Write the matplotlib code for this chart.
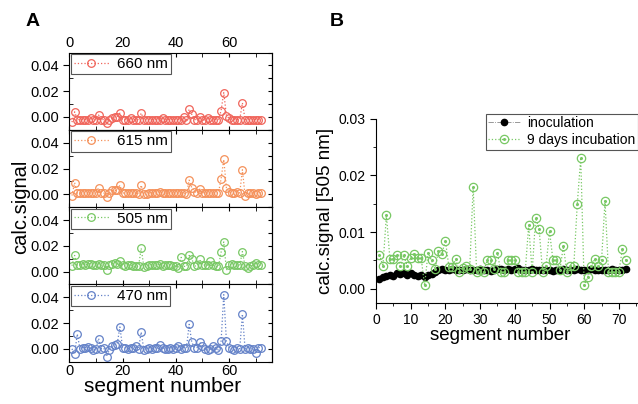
import numpy as np
import matplotlib
matplotlib.use('Agg')
import matplotlib.pyplot as plt
from matplotlib.ticker import MultipleLocator

plt.rcParams['font.family'] = ['Liberation Sans', 'DejaVu Sans']

# panel A: calculated signal per segment, one series per wavelength
seg_a = np.arange(1, 73)
sig_660 = [-0.004, 0.004, -0.002, -0.002, -0.002, -0.002, -0.002, -0.001, -0.002, -0.002,
           0.0015, -0.002, -0.002, -0.005, -0.002, -0.001, 0.000, 0.000, 0.003, -0.002,
           -0.002, -0.002, -0.001, -0.002, -0.002, -0.002, 0.003, -0.002, -0.002, -0.002,
           -0.002, -0.002, -0.002, -0.002, -0.001, -0.002, -0.002, -0.002, -0.002, -0.002,
           -0.002, -0.002, 0.000, -0.002, 0.006, 0.002, -0.002, -0.002, 0.000, -0.002,
           -0.002, -0.001, -0.002, -0.002, -0.002, -0.002, 0.005, 0.019, 0.001, -0.001,
           -0.002, -0.002, -0.002, -0.002, 0.011, -0.002, -0.002, -0.002, -0.002, -0.002,
           -0.002, -0.002]
sig_615 = [-0.001, 0.009, 0.001, 0.001, 0.001, 0.001, 0.001, 0.001, 0.001, 0.001,
           0.005, 0.001, 0.001, -0.002, 0.001, 0.003, 0.003, 0.003, 0.007, 0.001,
           0.001, 0.001, 0.001, 0.001, 0.001, 0.000, 0.007, 0.000, 0.000, 0.001,
           0.001, 0.001, 0.001, 0.002, 0.001, 0.001, 0.001, 0.001, 0.001, 0.001,
           0.001, 0.001, 0.001, 0.000, 0.011, 0.005, 0.002, 0.001, 0.004, 0.001,
           0.001, 0.001, 0.001, 0.001, 0.001, 0.001, 0.012, 0.027, 0.005, 0.002,
           0.001, 0.001, 0.002, 0.001, 0.019, -0.001, 0.001, 0.001, 0.001, 0.000,
           0.001, 0.001]
sig_505 = [0.0045, 0.0125, 0.005, 0.005, 0.006, 0.005, 0.006, 0.006, 0.005, 0.005,
           0.006, 0.005, 0.005, 0.001, 0.005, 0.006, 0.007, 0.006, 0.008, 0.005,
           0.0045, 0.005, 0.005, 0.004, 0.004, 0.004, 0.018, 0.0035, 0.004, 0.005,
           0.005, 0.005, 0.005, 0.006, 0.004, 0.005, 0.005, 0.005, 0.004, 0.004,
           0.003, 0.011, 0.004, 0.004, 0.0125, 0.010, 0.004, 0.005, 0.0095, 0.005,
           0.005, 0.005, 0.008, 0.005, 0.004, 0.004, 0.015, 0.023, 0.001, 0.005,
           0.006, 0.005, 0.005, 0.005, 0.0155, 0.004, 0.003, 0.004, 0.005, 0.007,
           0.005, 0.005]
sig_470 = [0.000, -0.004, 0.0115, 0.000, 0.001, 0.001, 0.0015, 0.001, -0.001, 0.000,
           0.008, 0.000, 0.0005, -0.006, -0.001, 0.002, 0.003, 0.004, 0.017, 0.001,
           0.001, 0.000, 0.001, 0.001, 0.002, 0.000, 0.013, -0.001, 0.000, 0.001,
           0.000, 0.001, 0.001, 0.003, 0.001, 0.000, 0.000, 0.001, 0.000, 0.001,
           0.002, 0.000, 0.001, 0.001, 0.019, 0.005, 0.001, 0.001, 0.005, 0.002,
           0.000, -0.001, 0.000, 0.002, 0.001, -0.001, 0.006, 0.042, 0.006, 0.001,
           0.000, -0.001, 0.001, 0.000, 0.027, 0.000, 0.001, 0.000, 0.000, -0.003,
           0.001, 0.001]
labels_a = ['660 nm', '615 nm', '505 nm', '470 nm']
colors_a = ['#f0645a', '#f5915a', '#78c864', '#6482c8']

# panel B: 505 nm signal, inoculation vs 9 days incubation
seg_b = np.arange(1, 73)
inoculation = [0.0017, 0.0020, 0.0023, 0.0025, 0.0023, 0.0027, 0.0026, 0.0027, 0.0025, 0.0027,
               0.0024, 0.0022, 0.0025, 0.0021, 0.0025, 0.0026, 0.0030, 0.0033, 0.0035, 0.0034,
               0.0033, 0.0035, 0.0034, 0.0033, 0.0034, 0.0035, 0.0034, 0.0033, 0.0034, 0.0035,
               0.0034, 0.0033, 0.0032, 0.0034, 0.0035, 0.0035, 0.0034, 0.0035, 0.0034, 0.0035,
               0.0036, 0.0034, 0.0033, 0.0034, 0.0035, 0.0034, 0.0033, 0.0034, 0.0033, 0.0034,
               0.0032, 0.0033, 0.0034, 0.0035, 0.0034, 0.0033, 0.0034, 0.0035, 0.0034, 0.0033,
               0.0034, 0.0035, 0.0034, 0.0033, 0.0034, 0.0033, 0.0034, 0.0035, 0.0034, 0.0033,
               0.0034, 0.0035]
incubation = [0.0060, 0.0040, 0.0130, 0.0053, 0.0053, 0.0059, 0.0040, 0.0059, 0.0040, 0.0055,
              0.0062, 0.0055, 0.0055, 0.0006, 0.0063, 0.0050, 0.0035, 0.0067, 0.0062, 0.0085,
              0.0039, 0.0039, 0.0052, 0.0030, 0.0037, 0.0040, 0.0035, 0.0180, 0.0030, 0.0033,
              0.0029, 0.0050, 0.0050, 0.0035, 0.0063, 0.0029, 0.0029, 0.0050, 0.0050, 0.0050,
              0.0030, 0.0029, 0.0030, 0.0112, 0.0030, 0.0125, 0.0106, 0.0030, 0.0040, 0.0102,
              0.0050, 0.0050, 0.0034, 0.0075, 0.0029, 0.0040, 0.0040, 0.0149, 0.0231, 0.0006,
              0.0020, 0.0040, 0.0052, 0.0040, 0.0050, 0.0155, 0.0029, 0.0029, 0.0030, 0.0030,
              0.0070, 0.0050]

W, H = 638, 404
fig = plt.figure(figsize=(W / 100, H / 100), dpi=100)

# ---- panel A: four stacked axes
a_left, a_right = 69.3, 271.7
a_top, a_bot = 52.6, 361.7
ph = (a_bot - a_top) / 4
series = [sig_660, sig_615, sig_505, sig_470]
for i in range(4):
    top = a_top + i * ph
    ax = fig.add_axes([a_left / W, 1 - (top + ph) / H, (a_right - a_left) / W, ph / H])
    ax.plot(seg_a, series[i], linestyle=':', linewidth=0.9, color=colors_a[i],
            marker='o', markersize=5.5, markerfacecolor='none', markeredgewidth=0.9,
            label=labels_a[i])
    ax.set_xlim(0, 76)
    ax.set_ylim(-0.01, 0.05)
    ax.set_yticks([0.0, 0.02, 0.04])
    ax.set_yticklabels(['0.00', '0.02', '0.04'])
    ax.yaxis.set_minor_locator(MultipleLocator(0.01))
    ax.xaxis.set_major_locator(MultipleLocator(20))
    ax.xaxis.set_minor_locator(MultipleLocator(10))
    ax.tick_params(axis='y', which='major', direction='out', length=4, labelsize=10.5)
    ax.tick_params(axis='y', which='minor', direction='in', length=3)
    ax.tick_params(axis='x', which='both', direction='in', length=3, top=True, bottom=True,
                   labelsize=10.5, pad=2, labelbottom=(i == 3), labeltop=(i == 0))
    sec = ax.secondary_yaxis('right')
    sec.yaxis.set_major_locator(MultipleLocator(0.01))
    sec.tick_params(direction='in', length=3, labelright=False)
    leg = ax.legend(loc='upper left', bbox_to_anchor=(0, 1), borderaxespad=0.1,
                    fontsize=11, handlelength=2.3, handletextpad=0.5, borderpad=0.2,
                    fancybox=False, framealpha=1, edgecolor='#555555')
    leg.get_frame().set_linewidth(0.8)
    if i == 3:
        ax.set_xlabel('segment number', fontsize=15, labelpad=1)
        ax.xaxis.set_label_coords(0.46, -0.2)

fig.text(21 / W, 1 - ((a_top + a_bot) / 2) / H, 'calc.signal', rotation=90,
         ha='center', va='center', fontsize=14.5)
fig.text(33 / W, 1 - 22 / H, 'A', fontsize=14, fontweight='bold', ha='center', va='center')

# ---- panel B
b_left, b_top, b_bot = 376, 118.6, 303
b_right = b_left + 3.47 * 76
axb = fig.add_axes([b_left / W, 1 - b_bot / H, (b_right - b_left) / W, (b_bot - b_top) / H])
h_ino, = axb.plot(seg_b, inoculation, linestyle='-.', linewidth=0.6, color='#888888',
                  marker='o', markersize=4.5, markerfacecolor='black',
                  markeredgecolor='black')
h_inc, = axb.plot(seg_b, incubation, linestyle=':', linewidth=0.9, color='#78c864',
                  marker='o', markersize=6, markerfacecolor='none', markeredgewidth=0.9)
h_dot, = axb.plot(seg_b, incubation, linestyle='none', color='#78c864',
                  marker='o', markersize=1.2)
axb.set_xlim(0, 76)
axb.set_ylim(-0.0025, 0.03)
axb.set_yticks([0.0, 0.01, 0.02, 0.03])
axb.set_yticklabels(['0.00', '0.01', '0.02', '0.03'])
axb.yaxis.set_minor_locator(MultipleLocator(0.005))
axb.xaxis.set_major_locator(MultipleLocator(10))
axb.xaxis.set_minor_locator(MultipleLocator(5))
axb.spines['top'].set_visible(False)
axb.spines['right'].set_visible(False)
axb.tick_params(which='major', direction='out', length=4, labelsize=10)
axb.tick_params(which='minor', direction='out', length=2.5)
axb.set_xlabel('segment number', fontsize=13.5, labelpad=2)
axb.xaxis.set_label_coords(0.47, -0.13)
axb.set_ylabel('calc.signal [505 nm]', fontsize=13.5, labelpad=3)
legb = axb.legend([h_ino, (h_inc, h_dot)], ['inoculation', '9 days incubation'],
                  loc='upper right', bbox_to_anchor=(1.0, 1.035), borderaxespad=0.1,
                  fontsize=10, handlelength=2.3, handletextpad=0.5, borderpad=0.2,
                  labelspacing=0.2, fancybox=False, framealpha=1, edgecolor='#555555')
legb.get_frame().set_linewidth(0.8)
fig.text(337 / W, 1 - 22 / H, 'B', fontsize=14, fontweight='bold', ha='center', va='center')

fig.savefig('out.png', dpi=100)
